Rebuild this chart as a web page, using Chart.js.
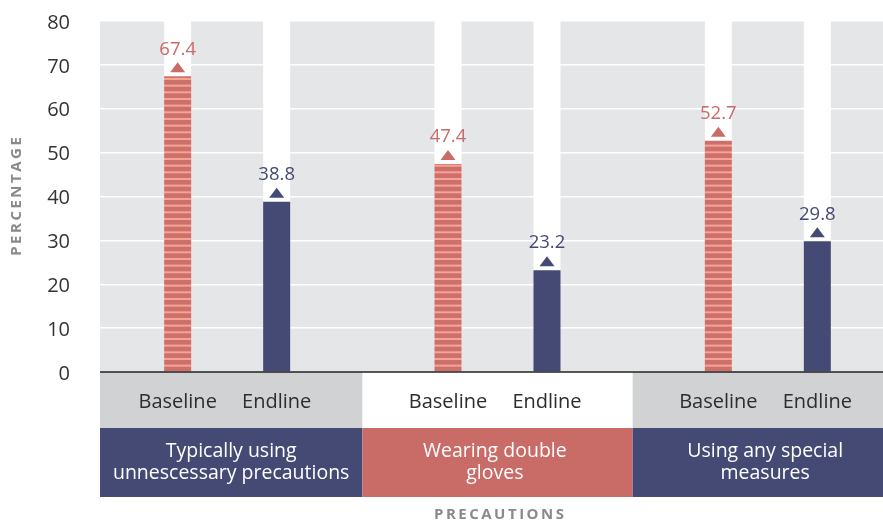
<!DOCTYPE html>
<html>
<head>
<meta charset="utf-8">
<script src="https://cdn.jsdelivr.net/npm/chart.js@4"></script>
<style>
  html, body { margin: 0; padding: 0; background: #fff; }
  #wrap { width: 883px; height: 521px; overflow: hidden; position: relative; }
  #precautionsChart { display: block; }
</style>
</head>
<body>
<div id="wrap">
  <canvas id="precautionsChart" width="903" height="521"></canvas>
</div>
<script>
// precaution groups (two-line labels) and the two survey rounds
const groups = [
  ['Typically using', 'unnescessary precautions'],
  ['Wearing double', 'gloves'],
  ['Using any special', 'measures']
];
const rounds = ['Baseline', 'Endline'];
const baselineValues = [67.4, 47.4, 52.7];
const endlineValues = [38.8, 23.2, 29.8];
const yMax = 80;
const yStep = 10;

const FONT = '"Open Sans", "Noto Sans", sans-serif';
const NAVY = '#454a75';
const SALMON = '#c96b67';
const PLOT_LEFT = 100;

// striped fill for the baseline bars
function stripePattern() {
  const c = document.createElement('canvas');
  c.width = 4;
  c.height = 20;
  const g = c.getContext('2d');
  g.fillStyle = '#f5a494';
  g.fillRect(0, 0, 4, 20);
  g.fillStyle = '#cd6f6b';
  for (let i = 0; i < 3; i++) {
    g.fillRect(0, i * 20 / 3, 4, 4.6);
  }
  return g.createPattern(c, 'repeat');
}

function spacedText(ctx, text, x, y, spacing) {
  ctx.letterSpacing = spacing + 'px';
  const w = ctx.measureText(text).width - spacing;
  ctx.textAlign = 'left';
  ctx.fillText(text, x - w / 2, y);
  ctx.letterSpacing = '0px';
}

const decor = {
  id: 'decor',
  beforeDraw(chart) {
    const { ctx, chartArea: a } = chart;
    ctx.save();
    ctx.fillStyle = '#e5e6e8';
    ctx.fillRect(PLOT_LEFT, a.top, a.right - PLOT_LEFT, a.bottom - a.top);
    ctx.restore();
  },
  beforeDatasetsDraw(chart) {
    const { ctx, chartArea: a } = chart;
    ctx.save();
    ctx.fillStyle = '#ffffff';
    chart.data.datasets.forEach((ds, di) => {
      chart.getDatasetMeta(di).data.forEach(bar => {
        ctx.fillRect(bar.x - bar.width / 2, a.top, bar.width, bar.y - a.top + 1);
      });
    });
    ctx.restore();
  },
  afterDatasetsDraw(chart) {
    const { ctx, chartArea: a, scales } = chart;
    const x = scales.x;
    ctx.save();

    // value markers and labels
    chart.data.datasets.forEach((ds, di) => {
      const color = di === 0 ? SALMON : NAVY;
      chart.getDatasetMeta(di).data.forEach((bar, i) => {
        const bottom = bar.y - 4;
        ctx.fillStyle = color;
        ctx.beginPath();
        ctx.moveTo(bar.x - 7.5, bottom);
        ctx.lineTo(bar.x + 7.5, bottom);
        ctx.lineTo(bar.x, bottom - 10);
        ctx.closePath();
        ctx.fill();
        ctx.font = '18.5px ' + FONT;
        ctx.textAlign = 'center';
        ctx.textBaseline = 'middle';
        ctx.fillText(ds.data[i].toFixed(1), bar.x, bar.y - 27);
      });
    });

    // group bands under the axis
    const centers = groups.map((g, i) => x.getPixelForValue(i));
    const edges = [PLOT_LEFT];
    for (let i = 1; i < centers.length; i++) edges.push((centers[i - 1] + centers[i]) / 2);
    edges.push(x.right);

    const bandTop = a.bottom;
    const bandBottom = 428;
    const boxBottom = 497;
    groups.forEach((g, i) => {
      const l = edges[i], r = edges[i + 1];
      if (i !== 1) {
        ctx.fillStyle = '#d1d2d4';
        ctx.fillRect(l, bandTop, r - l, bandBottom - bandTop);
      }
      ctx.fillStyle = i === 1 ? SALMON : NAVY;
      ctx.fillRect(l, bandBottom, r - l, boxBottom - bandBottom);
      ctx.fillStyle = '#ffffff';
      ctx.font = '19.5px ' + FONT;
      ctx.textAlign = 'center';
      ctx.textBaseline = 'middle';
      const cx = (l + Math.min(r, l + 265)) / 2;
      ctx.fillText(g[0], cx, 451);
      ctx.fillText(g[1], cx, 473);
    });

    // round names under each bar
    ctx.fillStyle = '#2d2d2d';
    ctx.font = '20px ' + FONT;
    chart.data.datasets.forEach((ds, di) => {
      chart.getDatasetMeta(di).data.forEach(bar => {
        ctx.fillText(rounds[di], bar.x, 402);
      });
    });

    // zero line
    ctx.strokeStyle = '#222222';
    ctx.lineWidth = 1.5;
    ctx.beginPath();
    ctx.moveTo(PLOT_LEFT, a.bottom);
    ctx.lineTo(a.right, a.bottom);
    ctx.stroke();

    // axis titles
    ctx.fillStyle = '#8a8a8d';
    ctx.font = 'bold 15px ' + FONT;
    ctx.textBaseline = 'middle';
    spacedText(ctx, 'PRECAUTIONS', 499, 515, 2.5);
    ctx.translate(17, (a.top + a.bottom) / 2);
    ctx.rotate(-Math.PI / 2);
    spacedText(ctx, 'PERCENTAGE', 0, 0, 2.5);
    ctx.restore();
  }
};

const ctx = document.getElementById('precautionsChart').getContext('2d');

new Chart(ctx, {
  type: 'bar',
  data: {
    labels: groups,
    datasets: [
      {
        label: rounds[0],
        data: baselineValues,
        backgroundColor: stripePattern()
      },
      {
        label: rounds[1],
        data: endlineValues,
        backgroundColor: NAVY
      }
    ]
  },
  options: {
    responsive: false,
    animation: false,
    events: [],
    categoryPercentage: 0.7324,
    barPercentage: 0.2727,
    layout: { padding: { top: 21, bottom: 149, left: 0, right: 0 } },
    plugins: {
      legend: { display: false },
      tooltip: { enabled: false }
    },
    scales: {
      x: { display: false },
      y: {
        min: 0,
        max: yMax,
        border: { display: false },
        grid: {
          color: c => (c.tick.value === 0 ? 'rgba(0,0,0,0)' : '#ffffff'),
          lineWidth: 1.5,
          drawTicks: false
        },
        ticks: {
          stepSize: yStep,
          padding: 22,
          labelOffset: 2,
          color: '#333333',
          font: { family: FONT, size: 20 }
        },
        afterFit(axis) {
          axis.width = 92;
          axis.paddingTop = 0;
          axis.paddingBottom = 0;
        }
      }
    }
  },
  plugins: [decor]
});
</script>
</body>
</html>
